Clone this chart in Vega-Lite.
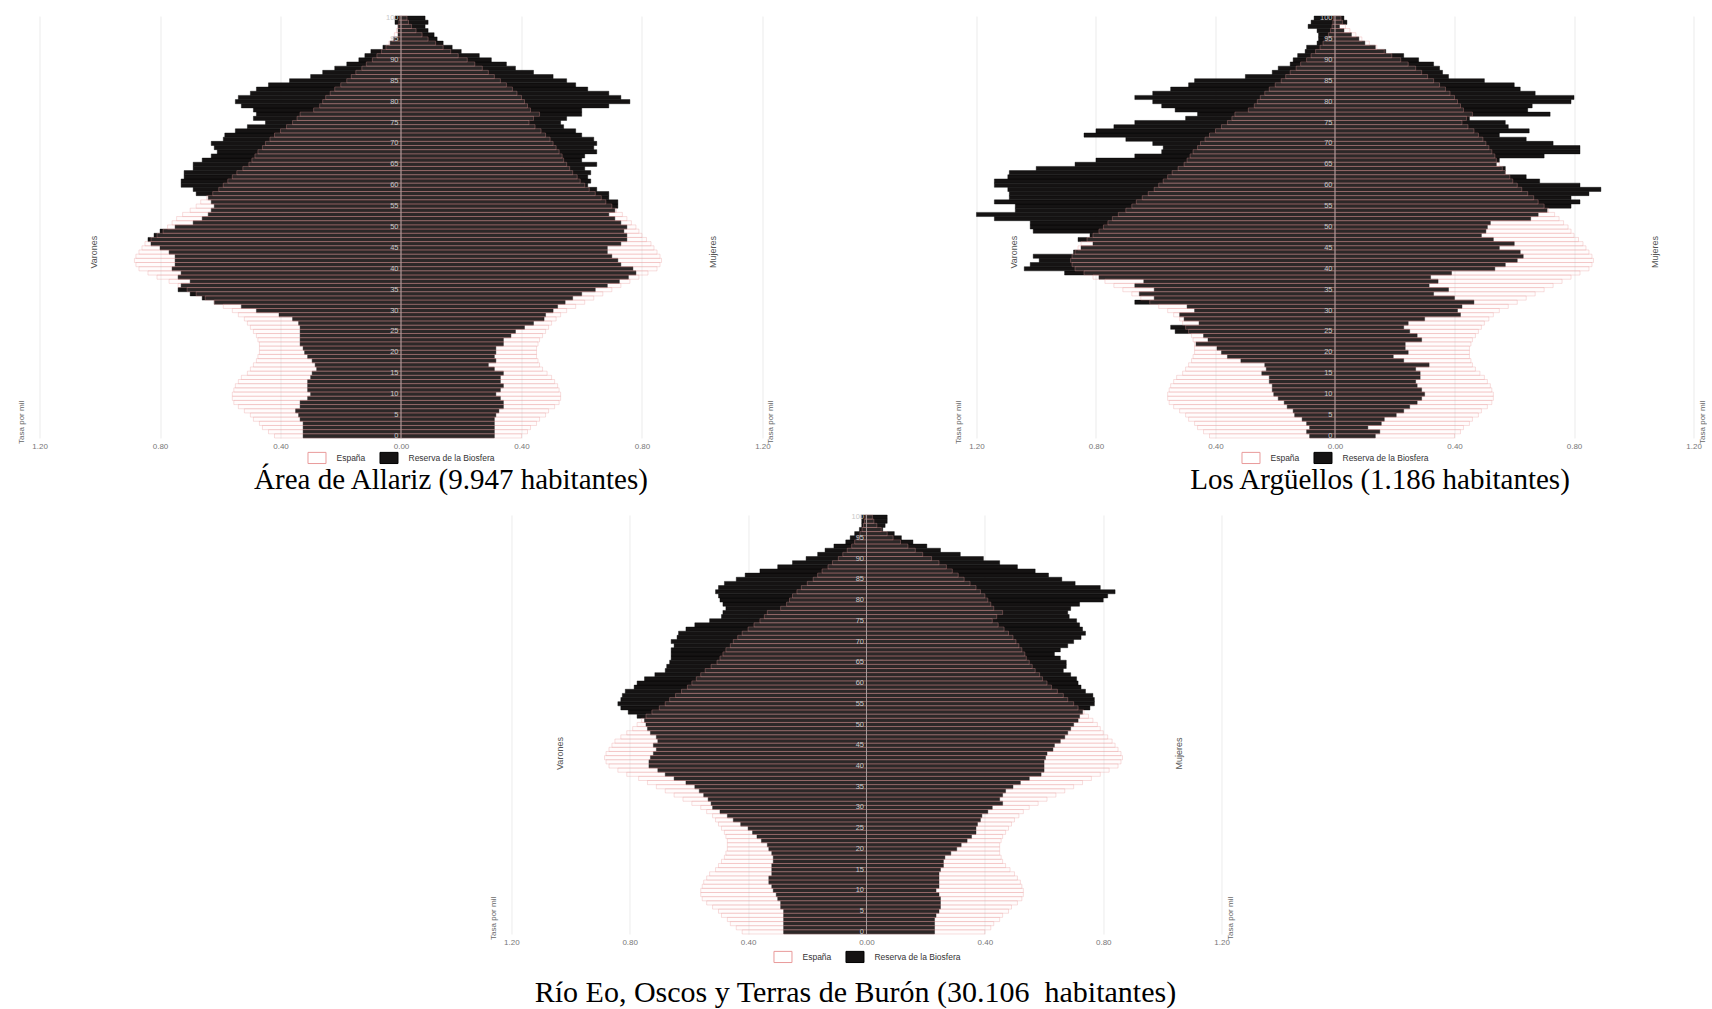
{
"$schema":"https://vega.github.io/schema/vega-lite/v6.json",
"background":"white",
"padding":{"left":18,"top":13,"right":0,"bottom":0},
"config":{"view":{"stroke":null},"axis":{"labelFont":"Liberation Sans"},"legend":{"labelFont":"Liberation Sans","layout":{"bottom":{"anchor":"middle"}}}},
"datasets":{
"es":[
{"e":0,"s":"V","v":-0.42},{"e":0,"s":"M","v":0.40},{"e":1,"s":"V","v":-0.44},{"e":1,"s":"M","v":0.42},{"e":2,"s":"V","v":-0.46},{"e":2,"s":"M","v":0.43},{"e":3,"s":"V","v":-0.47},{"e":3,"s":"M","v":0.45},{"e":4,"s":"V","v":-0.49},{"e":4,"s":"M","v":0.46},
{"e":5,"s":"V","v":-0.50},{"e":5,"s":"M","v":0.48},{"e":6,"s":"V","v":-0.52},{"e":6,"s":"M","v":0.49},{"e":7,"s":"V","v":-0.54},{"e":7,"s":"M","v":0.51},{"e":8,"s":"V","v":-0.555},{"e":8,"s":"M","v":0.525},{"e":9,"s":"V","v":-0.56},{"e":9,"s":"M","v":0.53},
{"e":10,"s":"V","v":-0.56},{"e":10,"s":"M","v":0.53},{"e":11,"s":"V","v":-0.555},{"e":11,"s":"M","v":0.525},{"e":12,"s":"V","v":-0.55},{"e":12,"s":"M","v":0.52},{"e":13,"s":"V","v":-0.54},{"e":13,"s":"M","v":0.51},{"e":14,"s":"V","v":-0.53},{"e":14,"s":"M","v":0.50},
{"e":15,"s":"V","v":-0.51},{"e":15,"s":"M","v":0.485},{"e":16,"s":"V","v":-0.50},{"e":16,"s":"M","v":0.47},{"e":17,"s":"V","v":-0.49},{"e":17,"s":"M","v":0.46},{"e":18,"s":"V","v":-0.48},{"e":18,"s":"M","v":0.455},{"e":19,"s":"V","v":-0.475},{"e":19,"s":"M","v":0.45},
{"e":20,"s":"V","v":-0.47},{"e":20,"s":"M","v":0.45},{"e":21,"s":"V","v":-0.47},{"e":21,"s":"M","v":0.45},{"e":22,"s":"V","v":-0.47},{"e":22,"s":"M","v":0.455},{"e":23,"s":"V","v":-0.475},{"e":23,"s":"M","v":0.46},{"e":24,"s":"V","v":-0.48},{"e":24,"s":"M","v":0.47},
{"e":25,"s":"V","v":-0.49},{"e":25,"s":"M","v":0.48},{"e":26,"s":"V","v":-0.50},{"e":26,"s":"M","v":0.49},{"e":27,"s":"V","v":-0.51},{"e":27,"s":"M","v":0.50},{"e":28,"s":"V","v":-0.52},{"e":28,"s":"M","v":0.515},{"e":29,"s":"V","v":-0.54},{"e":29,"s":"M","v":0.53},
{"e":30,"s":"V","v":-0.56},{"e":30,"s":"M","v":0.55},{"e":31,"s":"V","v":-0.59},{"e":31,"s":"M","v":0.58},{"e":32,"s":"V","v":-0.62},{"e":32,"s":"M","v":0.61},{"e":33,"s":"V","v":-0.65},{"e":33,"s":"M","v":0.64},{"e":34,"s":"V","v":-0.68},{"e":34,"s":"M","v":0.67},
{"e":35,"s":"V","v":-0.71},{"e":35,"s":"M","v":0.70},{"e":36,"s":"V","v":-0.74},{"e":36,"s":"M","v":0.73},{"e":37,"s":"V","v":-0.77},{"e":37,"s":"M","v":0.76},{"e":38,"s":"V","v":-0.81},{"e":38,"s":"M","v":0.79},{"e":39,"s":"V","v":-0.84},{"e":39,"s":"M","v":0.82},
{"e":40,"s":"V","v":-0.87},{"e":40,"s":"M","v":0.85},{"e":41,"s":"V","v":-0.88},{"e":41,"s":"M","v":0.86},{"e":42,"s":"V","v":-0.885},{"e":42,"s":"M","v":0.865},{"e":43,"s":"V","v":-0.88},{"e":43,"s":"M","v":0.86},{"e":44,"s":"V","v":-0.87},{"e":44,"s":"M","v":0.85},
{"e":45,"s":"V","v":-0.86},{"e":45,"s":"M","v":0.84},{"e":46,"s":"V","v":-0.85},{"e":46,"s":"M","v":0.83},{"e":47,"s":"V","v":-0.83},{"e":47,"s":"M","v":0.815},{"e":48,"s":"V","v":-0.81},{"e":48,"s":"M","v":0.80},{"e":49,"s":"V","v":-0.79},{"e":49,"s":"M","v":0.79},
{"e":50,"s":"V","v":-0.775},{"e":50,"s":"M","v":0.78},{"e":51,"s":"V","v":-0.76},{"e":51,"s":"M","v":0.765},{"e":52,"s":"V","v":-0.745},{"e":52,"s":"M","v":0.75},{"e":53,"s":"V","v":-0.725},{"e":53,"s":"M","v":0.735},{"e":54,"s":"V","v":-0.70},{"e":54,"s":"M","v":0.715},
{"e":55,"s":"V","v":-0.68},{"e":55,"s":"M","v":0.70},{"e":56,"s":"V","v":-0.665},{"e":56,"s":"M","v":0.68},{"e":57,"s":"V","v":-0.645},{"e":57,"s":"M","v":0.665},{"e":58,"s":"V","v":-0.625},{"e":58,"s":"M","v":0.645},{"e":59,"s":"V","v":-0.605},{"e":59,"s":"M","v":0.625},
{"e":60,"s":"V","v":-0.59},{"e":60,"s":"M","v":0.61},{"e":61,"s":"V","v":-0.575},{"e":61,"s":"M","v":0.595},{"e":62,"s":"V","v":-0.56},{"e":62,"s":"M","v":0.585},{"e":63,"s":"V","v":-0.545},{"e":63,"s":"M","v":0.57},{"e":64,"s":"V","v":-0.525},{"e":64,"s":"M","v":0.56},
{"e":65,"s":"V","v":-0.505},{"e":65,"s":"M","v":0.55},{"e":66,"s":"V","v":-0.495},{"e":66,"s":"M","v":0.54},{"e":67,"s":"V","v":-0.485},{"e":67,"s":"M","v":0.535},{"e":68,"s":"V","v":-0.475},{"e":68,"s":"M","v":0.525},{"e":69,"s":"V","v":-0.46},{"e":69,"s":"M","v":0.515},
{"e":70,"s":"V","v":-0.45},{"e":70,"s":"M","v":0.505},{"e":71,"s":"V","v":-0.435},{"e":71,"s":"M","v":0.495},{"e":72,"s":"V","v":-0.42},{"e":72,"s":"M","v":0.48},{"e":73,"s":"V","v":-0.40},{"e":73,"s":"M","v":0.465},{"e":74,"s":"V","v":-0.38},{"e":74,"s":"M","v":0.445},
{"e":75,"s":"V","v":-0.36},{"e":75,"s":"M","v":0.425},{"e":76,"s":"V","v":-0.345},{"e":76,"s":"M","v":0.44},{"e":77,"s":"V","v":-0.335},{"e":77,"s":"M","v":0.46},{"e":78,"s":"V","v":-0.29},{"e":78,"s":"M","v":0.43},{"e":79,"s":"V","v":-0.27},{"e":79,"s":"M","v":0.42},
{"e":80,"s":"V","v":-0.26},{"e":80,"s":"M","v":0.41},{"e":81,"s":"V","v":-0.25},{"e":81,"s":"M","v":0.40},{"e":82,"s":"V","v":-0.235},{"e":82,"s":"M","v":0.385},{"e":83,"s":"V","v":-0.22},{"e":83,"s":"M","v":0.37},{"e":84,"s":"V","v":-0.20},{"e":84,"s":"M","v":0.35},
{"e":85,"s":"V","v":-0.18},{"e":85,"s":"M","v":0.33},{"e":86,"s":"V","v":-0.165},{"e":86,"s":"M","v":0.31},{"e":87,"s":"V","v":-0.15},{"e":87,"s":"M","v":0.29},{"e":88,"s":"V","v":-0.13},{"e":88,"s":"M","v":0.27},{"e":89,"s":"V","v":-0.115},{"e":89,"s":"M","v":0.245},
{"e":90,"s":"V","v":-0.095},{"e":90,"s":"M","v":0.22},{"e":91,"s":"V","v":-0.08},{"e":91,"s":"M","v":0.19},{"e":92,"s":"V","v":-0.065},{"e":92,"s":"M","v":0.165},{"e":93,"s":"V","v":-0.05},{"e":93,"s":"M","v":0.14},{"e":94,"s":"V","v":-0.04},{"e":94,"s":"M","v":0.115},
{"e":95,"s":"V","v":-0.03},{"e":95,"s":"M","v":0.09},{"e":96,"s":"V","v":-0.022},{"e":96,"s":"M","v":0.07},{"e":97,"s":"V","v":-0.015},{"e":97,"s":"M","v":0.05},{"e":98,"s":"V","v":-0.01},{"e":98,"s":"M","v":0.035},{"e":99,"s":"V","v":-0.007},{"e":99,"s":"M","v":0.025},
{"e":100,"s":"V","v":-0.005},{"e":100,"s":"M","v":0.02}
],
"al":[
{"e":0,"s":"V","v":-0.325},{"e":0,"s":"M","v":0.31},{"e":1,"s":"V","v":-0.325},{"e":1,"s":"M","v":0.31},{"e":2,"s":"V","v":-0.325},{"e":2,"s":"M","v":0.31},{"e":3,"s":"V","v":-0.325},{"e":3,"s":"M","v":0.31},{"e":4,"s":"V","v":-0.335},{"e":4,"s":"M","v":0.31},
{"e":5,"s":"V","v":-0.34},{"e":5,"s":"M","v":0.315},{"e":6,"s":"V","v":-0.35},{"e":6,"s":"M","v":0.325},{"e":7,"s":"V","v":-0.335},{"e":7,"s":"M","v":0.34},{"e":8,"s":"V","v":-0.335},{"e":8,"s":"M","v":0.34},{"e":9,"s":"V","v":-0.31},{"e":9,"s":"M","v":0.33},
{"e":10,"s":"V","v":-0.30},{"e":10,"s":"M","v":0.315},{"e":11,"s":"V","v":-0.31},{"e":11,"s":"M","v":0.33},{"e":12,"s":"V","v":-0.31},{"e":12,"s":"M","v":0.34},{"e":13,"s":"V","v":-0.31},{"e":13,"s":"M","v":0.33},{"e":14,"s":"V","v":-0.30},{"e":14,"s":"M","v":0.33},
{"e":15,"s":"V","v":-0.295},{"e":15,"s":"M","v":0.34},{"e":16,"s":"V","v":-0.28},{"e":16,"s":"M","v":0.31},{"e":17,"s":"V","v":-0.285},{"e":17,"s":"M","v":0.29},{"e":18,"s":"V","v":-0.295},{"e":18,"s":"M","v":0.315},{"e":19,"s":"V","v":-0.31},{"e":19,"s":"M","v":0.31},
{"e":20,"s":"V","v":-0.32},{"e":20,"s":"M","v":0.315},{"e":21,"s":"V","v":-0.325},{"e":21,"s":"M","v":0.315},{"e":22,"s":"V","v":-0.335},{"e":22,"s":"M","v":0.34},{"e":23,"s":"V","v":-0.335},{"e":23,"s":"M","v":0.34},{"e":24,"s":"V","v":-0.335},{"e":24,"s":"M","v":0.365},
{"e":25,"s":"V","v":-0.335},{"e":25,"s":"M","v":0.38},{"e":26,"s":"V","v":-0.335},{"e":26,"s":"M","v":0.41},{"e":27,"s":"V","v":-0.34},{"e":27,"s":"M","v":0.44},{"e":28,"s":"V","v":-0.36},{"e":28,"s":"M","v":0.475},{"e":29,"s":"V","v":-0.405},{"e":29,"s":"M","v":0.48},
{"e":30,"s":"V","v":-0.48},{"e":30,"s":"M","v":0.505},{"e":31,"s":"V","v":-0.53},{"e":31,"s":"M","v":0.52},{"e":32,"s":"V","v":-0.62},{"e":32,"s":"M","v":0.545},{"e":33,"s":"V","v":-0.66},{"e":33,"s":"M","v":0.57},{"e":34,"s":"V","v":-0.70},{"e":34,"s":"M","v":0.60},
{"e":35,"s":"V","v":-0.74},{"e":35,"s":"M","v":0.645},{"e":36,"s":"V","v":-0.73},{"e":36,"s":"M","v":0.685},{"e":37,"s":"V","v":-0.70},{"e":37,"s":"M","v":0.725},{"e":38,"s":"V","v":-0.74},{"e":38,"s":"M","v":0.755},{"e":39,"s":"V","v":-0.73},{"e":39,"s":"M","v":0.78},
{"e":40,"s":"V","v":-0.76},{"e":40,"s":"M","v":0.77},{"e":41,"s":"V","v":-0.75},{"e":41,"s":"M","v":0.73},{"e":42,"s":"V","v":-0.75},{"e":42,"s":"M","v":0.72},{"e":43,"s":"V","v":-0.75},{"e":43,"s":"M","v":0.70},{"e":44,"s":"V","v":-0.77},{"e":44,"s":"M","v":0.685},
{"e":45,"s":"V","v":-0.80},{"e":45,"s":"M","v":0.685},{"e":46,"s":"V","v":-0.83},{"e":46,"s":"M","v":0.73},{"e":47,"s":"V","v":-0.84},{"e":47,"s":"M","v":0.75},{"e":48,"s":"V","v":-0.82},{"e":48,"s":"M","v":0.75},{"e":49,"s":"V","v":-0.80},{"e":49,"s":"M","v":0.74},
{"e":50,"s":"V","v":-0.75},{"e":50,"s":"M","v":0.75},{"e":51,"s":"V","v":-0.69},{"e":51,"s":"M","v":0.73},{"e":52,"s":"V","v":-0.66},{"e":52,"s":"M","v":0.71},{"e":53,"s":"V","v":-0.64},{"e":53,"s":"M","v":0.69},{"e":54,"s":"V","v":-0.63},{"e":54,"s":"M","v":0.71},
{"e":55,"s":"V","v":-0.62},{"e":55,"s":"M","v":0.72},{"e":56,"s":"V","v":-0.63},{"e":56,"s":"M","v":0.72},{"e":57,"s":"V","v":-0.64},{"e":57,"s":"M","v":0.69},{"e":58,"s":"V","v":-0.68},{"e":58,"s":"M","v":0.69},{"e":59,"s":"V","v":-0.69},{"e":59,"s":"M","v":0.65},
{"e":60,"s":"V","v":-0.73},{"e":60,"s":"M","v":0.62},{"e":61,"s":"V","v":-0.73},{"e":61,"s":"M","v":0.63},{"e":62,"s":"V","v":-0.72},{"e":62,"s":"M","v":0.62},{"e":63,"s":"V","v":-0.72},{"e":63,"s":"M","v":0.63},{"e":64,"s":"V","v":-0.69},{"e":64,"s":"M","v":0.61},
{"e":65,"s":"V","v":-0.69},{"e":65,"s":"M","v":0.65},{"e":66,"s":"V","v":-0.66},{"e":66,"s":"M","v":0.60},{"e":67,"s":"V","v":-0.63},{"e":67,"s":"M","v":0.61},{"e":68,"s":"V","v":-0.61},{"e":68,"s":"M","v":0.65},{"e":69,"s":"V","v":-0.62},{"e":69,"s":"M","v":0.64},
{"e":70,"s":"V","v":-0.63},{"e":70,"s":"M","v":0.65},{"e":71,"s":"V","v":-0.59},{"e":71,"s":"M","v":0.64},{"e":72,"s":"V","v":-0.585},{"e":72,"s":"M","v":0.60},{"e":73,"s":"V","v":-0.55},{"e":73,"s":"M","v":0.58},{"e":74,"s":"V","v":-0.51},{"e":74,"s":"M","v":0.54},
{"e":75,"s":"V","v":-0.45},{"e":75,"s":"M","v":0.53},{"e":76,"s":"V","v":-0.49},{"e":76,"s":"M","v":0.55},{"e":77,"s":"V","v":-0.48},{"e":77,"s":"M","v":0.60},{"e":78,"s":"V","v":-0.49},{"e":78,"s":"M","v":0.60},{"e":79,"s":"V","v":-0.53},{"e":79,"s":"M","v":0.69},
{"e":80,"s":"V","v":-0.55},{"e":80,"s":"M","v":0.76},{"e":81,"s":"V","v":-0.54},{"e":81,"s":"M","v":0.73},{"e":82,"s":"V","v":-0.50},{"e":82,"s":"M","v":0.69},{"e":83,"s":"V","v":-0.48},{"e":83,"s":"M","v":0.62},{"e":84,"s":"V","v":-0.44},{"e":84,"s":"M","v":0.58},
{"e":85,"s":"V","v":-0.37},{"e":85,"s":"M","v":0.55},{"e":86,"s":"V","v":-0.30},{"e":86,"s":"M","v":0.505},{"e":87,"s":"V","v":-0.26},{"e":87,"s":"M","v":0.44},{"e":88,"s":"V","v":-0.22},{"e":88,"s":"M","v":0.38},{"e":89,"s":"V","v":-0.18},{"e":89,"s":"M","v":0.35},
{"e":90,"s":"V","v":-0.14},{"e":90,"s":"M","v":0.30},{"e":91,"s":"V","v":-0.12},{"e":91,"s":"M","v":0.26},{"e":92,"s":"V","v":-0.10},{"e":92,"s":"M","v":0.20},{"e":93,"s":"V","v":-0.06},{"e":93,"s":"M","v":0.17},{"e":94,"s":"V","v":-0.036},{"e":94,"s":"M","v":0.14},
{"e":95,"s":"V","v":-0.025},{"e":95,"s":"M","v":0.12},{"e":96,"s":"V","v":-0.01},{"e":96,"s":"M","v":0.11},{"e":97,"s":"V","v":-0.01},{"e":97,"s":"M","v":0.09},{"e":98,"s":"V","v":-0.01},{"e":98,"s":"M","v":0.08},{"e":99,"s":"V","v":-0.02},{"e":99,"s":"M","v":0.09},
{"e":100,"s":"V","v":-0.02},{"e":100,"s":"M","v":0.08}
],
"ar":[
{"e":0,"s":"V","v":-0.085},{"e":0,"s":"M","v":0.135},{"e":1,"s":"V","v":-0.095},{"e":1,"s":"M","v":0.15},{"e":2,"s":"V","v":-0.085},{"e":2,"s":"M","v":0.11},{"e":3,"s":"V","v":-0.095},{"e":3,"s":"M","v":0.155},{"e":4,"s":"V","v":-0.11},{"e":4,"s":"M","v":0.165},
{"e":5,"s":"V","v":-0.135},{"e":5,"s":"M","v":0.205},{"e":6,"s":"V","v":-0.14},{"e":6,"s":"M","v":0.23},{"e":7,"s":"V","v":-0.16},{"e":7,"s":"M","v":0.25},{"e":8,"s":"V","v":-0.17},{"e":8,"s":"M","v":0.275},{"e":9,"s":"V","v":-0.19},{"e":9,"s":"M","v":0.29},
{"e":10,"s":"V","v":-0.205},{"e":10,"s":"M","v":0.30},{"e":11,"s":"V","v":-0.21},{"e":11,"s":"M","v":0.29},{"e":12,"s":"V","v":-0.21},{"e":12,"s":"M","v":0.275},{"e":13,"s":"V","v":-0.22},{"e":13,"s":"M","v":0.27},{"e":14,"s":"V","v":-0.22},{"e":14,"s":"M","v":0.285},
{"e":15,"s":"V","v":-0.245},{"e":15,"s":"M","v":0.285},{"e":16,"s":"V","v":-0.23},{"e":16,"s":"M","v":0.27},{"e":17,"s":"V","v":-0.235},{"e":17,"s":"M","v":0.315},{"e":18,"s":"V","v":-0.315},{"e":18,"s":"M","v":0.23},{"e":19,"s":"V","v":-0.36},{"e":19,"s":"M","v":0.195},
{"e":20,"s":"V","v":-0.38},{"e":20,"s":"M","v":0.245},{"e":21,"s":"V","v":-0.395},{"e":21,"s":"M","v":0.235},{"e":22,"s":"V","v":-0.465},{"e":22,"s":"M","v":0.235},{"e":23,"s":"V","v":-0.425},{"e":23,"s":"M","v":0.29},{"e":24,"s":"V","v":-0.44},{"e":24,"s":"M","v":0.275},
{"e":25,"s":"V","v":-0.535},{"e":25,"s":"M","v":0.25},{"e":26,"s":"V","v":-0.55},{"e":26,"s":"M","v":0.23},{"e":27,"s":"V","v":-0.455},{"e":27,"s":"M","v":0.245},{"e":28,"s":"V","v":-0.505},{"e":28,"s":"M","v":0.30},{"e":29,"s":"V","v":-0.52},{"e":29,"s":"M","v":0.42},
{"e":30,"s":"V","v":-0.47},{"e":30,"s":"M","v":0.41},{"e":31,"s":"V","v":-0.495},{"e":31,"s":"M","v":0.425},{"e":32,"s":"V","v":-0.67},{"e":32,"s":"M","v":0.465},{"e":33,"s":"V","v":-0.605},{"e":33,"s":"M","v":0.40},{"e":34,"s":"V","v":-0.655},{"e":34,"s":"M","v":0.33},
{"e":35,"s":"V","v":-0.605},{"e":35,"s":"M","v":0.38},{"e":36,"s":"V","v":-0.67},{"e":36,"s":"M","v":0.315},{"e":37,"s":"V","v":-0.64},{"e":37,"s":"M","v":0.345},{"e":38,"s":"V","v":-0.79},{"e":38,"s":"M","v":0.32},{"e":39,"s":"V","v":-0.905},{"e":39,"s":"M","v":0.39},
{"e":40,"s":"V","v":-1.04},{"e":40,"s":"M","v":0.535},{"e":41,"s":"V","v":-1.02},{"e":41,"s":"M","v":0.57},{"e":42,"s":"V","v":-0.99},{"e":42,"s":"M","v":0.61},{"e":43,"s":"V","v":-1.01},{"e":43,"s":"M","v":0.63},{"e":44,"s":"V","v":-0.875},{"e":44,"s":"M","v":0.62},
{"e":45,"s":"V","v":-0.85},{"e":45,"s":"M","v":0.55},{"e":46,"s":"V","v":-0.81},{"e":46,"s":"M","v":0.60},{"e":47,"s":"V","v":-0.86},{"e":47,"s":"M","v":0.53},{"e":48,"s":"V","v":-0.82},{"e":48,"s":"M","v":0.49},{"e":49,"s":"V","v":-1.01},{"e":49,"s":"M","v":0.505},
{"e":50,"s":"V","v":-1.02},{"e":50,"s":"M","v":0.51},{"e":51,"s":"V","v":-1.02},{"e":51,"s":"M","v":0.52},{"e":52,"s":"V","v":-1.14},{"e":52,"s":"M","v":0.655},{"e":53,"s":"V","v":-1.20},{"e":53,"s":"M","v":0.68},{"e":54,"s":"V","v":-1.07},{"e":54,"s":"M","v":0.71},
{"e":55,"s":"V","v":-1.07},{"e":55,"s":"M","v":0.79},{"e":56,"s":"V","v":-1.14},{"e":56,"s":"M","v":0.82},{"e":57,"s":"V","v":-1.09},{"e":57,"s":"M","v":0.79},{"e":58,"s":"V","v":-1.09},{"e":58,"s":"M","v":0.85},{"e":59,"s":"V","v":-1.095},{"e":59,"s":"M","v":0.89},
{"e":60,"s":"V","v":-1.14},{"e":60,"s":"M","v":0.82},{"e":61,"s":"V","v":-1.14},{"e":61,"s":"M","v":0.685},{"e":62,"s":"V","v":-1.095},{"e":62,"s":"M","v":0.64},{"e":63,"s":"V","v":-1.09},{"e":63,"s":"M","v":0.57},{"e":64,"s":"V","v":-1.00},{"e":64,"s":"M","v":0.57},
{"e":65,"s":"V","v":-0.87},{"e":65,"s":"M","v":0.54},{"e":66,"s":"V","v":-0.80},{"e":66,"s":"M","v":0.55},{"e":67,"s":"V","v":-0.67},{"e":67,"s":"M","v":0.70},{"e":68,"s":"V","v":-0.58},{"e":68,"s":"M","v":0.82},{"e":69,"s":"V","v":-0.575},{"e":69,"s":"M","v":0.82},
{"e":70,"s":"V","v":-0.61},{"e":70,"s":"M","v":0.73},{"e":71,"s":"V","v":-0.70},{"e":71,"s":"M","v":0.64},{"e":72,"s":"V","v":-0.84},{"e":72,"s":"M","v":0.55},{"e":73,"s":"V","v":-0.80},{"e":73,"s":"M","v":0.65},{"e":74,"s":"V","v":-0.74},{"e":74,"s":"M","v":0.58},
{"e":75,"s":"V","v":-0.67},{"e":75,"s":"M","v":0.57},{"e":76,"s":"V","v":-0.50},{"e":76,"s":"M","v":0.45},{"e":77,"s":"V","v":-0.46},{"e":77,"s":"M","v":0.72},{"e":78,"s":"V","v":-0.535},{"e":78,"s":"M","v":0.645},{"e":79,"s":"V","v":-0.58},{"e":79,"s":"M","v":0.66},
{"e":80,"s":"V","v":-0.61},{"e":80,"s":"M","v":0.79},{"e":81,"s":"V","v":-0.67},{"e":81,"s":"M","v":0.80},{"e":82,"s":"V","v":-0.61},{"e":82,"s":"M","v":0.67},{"e":83,"s":"V","v":-0.55},{"e":83,"s":"M","v":0.62},{"e":84,"s":"V","v":-0.49},{"e":84,"s":"M","v":0.60},
{"e":85,"s":"V","v":-0.47},{"e":85,"s":"M","v":0.50},{"e":86,"s":"V","v":-0.30},{"e":86,"s":"M","v":0.38},{"e":87,"s":"V","v":-0.21},{"e":87,"s":"M","v":0.36},{"e":88,"s":"V","v":-0.19},{"e":88,"s":"M","v":0.35},{"e":89,"s":"V","v":-0.15},{"e":89,"s":"M","v":0.33},
{"e":90,"s":"V","v":-0.14},{"e":90,"s":"M","v":0.28},{"e":91,"s":"V","v":-0.125},{"e":91,"s":"M","v":0.23},{"e":92,"s":"V","v":-0.10},{"e":92,"s":"M","v":0.17},{"e":93,"s":"V","v":-0.095},{"e":93,"s":"M","v":0.135},{"e":94,"s":"V","v":-0.06},{"e":94,"s":"M","v":0.10},
{"e":95,"s":"V","v":-0.055},{"e":95,"s":"M","v":0.08},{"e":96,"s":"V","v":-0.055},{"e":96,"s":"M","v":0.055},{"e":97,"s":"V","v":-0.06},{"e":97,"s":"M","v":0.03},{"e":98,"s":"V","v":-0.09},{"e":98,"s":"M","v":0.015},{"e":99,"s":"V","v":-0.08},{"e":99,"s":"M","v":0.04},
{"e":100,"s":"V","v":-0.07},{"e":100,"s":"M","v":0.03}
],
"eo":[
{"e":0,"s":"V","v":-0.28},{"e":0,"s":"M","v":0.23},{"e":1,"s":"V","v":-0.28},{"e":1,"s":"M","v":0.23},{"e":2,"s":"V","v":-0.28},{"e":2,"s":"M","v":0.23},{"e":3,"s":"V","v":-0.28},{"e":3,"s":"M","v":0.23},{"e":4,"s":"V","v":-0.28},{"e":4,"s":"M","v":0.235},
{"e":5,"s":"V","v":-0.28},{"e":5,"s":"M","v":0.245},{"e":6,"s":"V","v":-0.29},{"e":6,"s":"M","v":0.25},{"e":7,"s":"V","v":-0.29},{"e":7,"s":"M","v":0.25},{"e":8,"s":"V","v":-0.30},{"e":8,"s":"M","v":0.25},{"e":9,"s":"V","v":-0.305},{"e":9,"s":"M","v":0.245},
{"e":10,"s":"V","v":-0.315},{"e":10,"s":"M","v":0.235},{"e":11,"s":"V","v":-0.32},{"e":11,"s":"M","v":0.245},{"e":12,"s":"V","v":-0.33},{"e":12,"s":"M","v":0.245},{"e":13,"s":"V","v":-0.33},{"e":13,"s":"M","v":0.245},{"e":14,"s":"V","v":-0.32},{"e":14,"s":"M","v":0.245},
{"e":15,"s":"V","v":-0.32},{"e":15,"s":"M","v":0.25},{"e":16,"s":"V","v":-0.32},{"e":16,"s":"M","v":0.26},{"e":17,"s":"V","v":-0.315},{"e":17,"s":"M","v":0.26},{"e":18,"s":"V","v":-0.315},{"e":18,"s":"M","v":0.265},{"e":19,"s":"V","v":-0.32},{"e":19,"s":"M","v":0.285},
{"e":20,"s":"V","v":-0.33},{"e":20,"s":"M","v":0.305},{"e":21,"s":"V","v":-0.335},{"e":21,"s":"M","v":0.32},{"e":22,"s":"V","v":-0.355},{"e":22,"s":"M","v":0.34},{"e":23,"s":"V","v":-0.37},{"e":23,"s":"M","v":0.355},{"e":24,"s":"V","v":-0.385},{"e":24,"s":"M","v":0.37},
{"e":25,"s":"V","v":-0.40},{"e":25,"s":"M","v":0.37},{"e":26,"s":"V","v":-0.425},{"e":26,"s":"M","v":0.375},{"e":27,"s":"V","v":-0.45},{"e":27,"s":"M","v":0.385},{"e":28,"s":"V","v":-0.47},{"e":28,"s":"M","v":0.39},{"e":29,"s":"V","v":-0.495},{"e":29,"s":"M","v":0.41},
{"e":30,"s":"V","v":-0.52},{"e":30,"s":"M","v":0.425},{"e":31,"s":"V","v":-0.525},{"e":31,"s":"M","v":0.46},{"e":32,"s":"V","v":-0.535},{"e":32,"s":"M","v":0.45},{"e":33,"s":"V","v":-0.55},{"e":33,"s":"M","v":0.46},{"e":34,"s":"V","v":-0.565},{"e":34,"s":"M","v":0.47},
{"e":35,"s":"V","v":-0.58},{"e":35,"s":"M","v":0.495},{"e":36,"s":"V","v":-0.61},{"e":36,"s":"M","v":0.52},{"e":37,"s":"V","v":-0.65},{"e":37,"s":"M","v":0.55},{"e":38,"s":"V","v":-0.68},{"e":38,"s":"M","v":0.59},{"e":39,"s":"V","v":-0.705},{"e":39,"s":"M","v":0.60},
{"e":40,"s":"V","v":-0.735},{"e":40,"s":"M","v":0.60},{"e":41,"s":"V","v":-0.735},{"e":41,"s":"M","v":0.60},{"e":42,"s":"V","v":-0.73},{"e":42,"s":"M","v":0.605},{"e":43,"s":"V","v":-0.72},{"e":43,"s":"M","v":0.61},{"e":44,"s":"V","v":-0.71},{"e":44,"s":"M","v":0.63},
{"e":45,"s":"V","v":-0.72},{"e":45,"s":"M","v":0.635},{"e":46,"s":"V","v":-0.705},{"e":46,"s":"M","v":0.655},{"e":47,"s":"V","v":-0.71},{"e":47,"s":"M","v":0.67},{"e":48,"s":"V","v":-0.73},{"e":48,"s":"M","v":0.68},{"e":49,"s":"V","v":-0.74},{"e":49,"s":"M","v":0.69},
{"e":50,"s":"V","v":-0.745},{"e":50,"s":"M","v":0.70},{"e":51,"s":"V","v":-0.75},{"e":51,"s":"M","v":0.715},{"e":52,"s":"V","v":-0.775},{"e":52,"s":"M","v":0.72},{"e":53,"s":"V","v":-0.805},{"e":53,"s":"M","v":0.73},{"e":54,"s":"V","v":-0.83},{"e":54,"s":"M","v":0.755},
{"e":55,"s":"V","v":-0.84},{"e":55,"s":"M","v":0.77},{"e":56,"s":"V","v":-0.83},{"e":56,"s":"M","v":0.77},{"e":57,"s":"V","v":-0.825},{"e":57,"s":"M","v":0.765},{"e":58,"s":"V","v":-0.815},{"e":58,"s":"M","v":0.74},{"e":59,"s":"V","v":-0.785},{"e":59,"s":"M","v":0.725},
{"e":60,"s":"V","v":-0.775},{"e":60,"s":"M","v":0.715},{"e":61,"s":"V","v":-0.75},{"e":61,"s":"M","v":0.71},{"e":62,"s":"V","v":-0.715},{"e":62,"s":"M","v":0.69},{"e":63,"s":"V","v":-0.68},{"e":63,"s":"M","v":0.665},{"e":64,"s":"V","v":-0.675},{"e":64,"s":"M","v":0.675},
{"e":65,"s":"V","v":-0.665},{"e":65,"s":"M","v":0.675},{"e":66,"s":"V","v":-0.66},{"e":66,"s":"M","v":0.655},{"e":67,"s":"V","v":-0.66},{"e":67,"s":"M","v":0.635},{"e":68,"s":"V","v":-0.66},{"e":68,"s":"M","v":0.655},{"e":69,"s":"V","v":-0.65},{"e":69,"s":"M","v":0.68},
{"e":70,"s":"V","v":-0.66},{"e":70,"s":"M","v":0.70},{"e":71,"s":"V","v":-0.64},{"e":71,"s":"M","v":0.725},{"e":72,"s":"V","v":-0.635},{"e":72,"s":"M","v":0.74},{"e":73,"s":"V","v":-0.61},{"e":73,"s":"M","v":0.73},{"e":74,"s":"V","v":-0.58},{"e":74,"s":"M","v":0.72},
{"e":75,"s":"V","v":-0.53},{"e":75,"s":"M","v":0.71},{"e":76,"s":"V","v":-0.49},{"e":76,"s":"M","v":0.685},{"e":77,"s":"V","v":-0.485},{"e":77,"s":"M","v":0.68},{"e":78,"s":"V","v":-0.475},{"e":78,"s":"M","v":0.69},{"e":79,"s":"V","v":-0.485},{"e":79,"s":"M","v":0.72},
{"e":80,"s":"V","v":-0.495},{"e":80,"s":"M","v":0.80},{"e":81,"s":"V","v":-0.50},{"e":81,"s":"M","v":0.815},{"e":82,"s":"V","v":-0.51},{"e":82,"s":"M","v":0.84},{"e":83,"s":"V","v":-0.50},{"e":83,"s":"M","v":0.79},{"e":84,"s":"V","v":-0.48},{"e":84,"s":"M","v":0.705},
{"e":85,"s":"V","v":-0.44},{"e":85,"s":"M","v":0.66},{"e":86,"s":"V","v":-0.41},{"e":86,"s":"M","v":0.615},{"e":87,"s":"V","v":-0.36},{"e":87,"s":"M","v":0.57},{"e":88,"s":"V","v":-0.30},{"e":88,"s":"M","v":0.51},{"e":89,"s":"V","v":-0.25},{"e":89,"s":"M","v":0.45},
{"e":90,"s":"V","v":-0.204},{"e":90,"s":"M","v":0.395},{"e":91,"s":"V","v":-0.165},{"e":91,"s":"M","v":0.317},{"e":92,"s":"V","v":-0.14},{"e":92,"s":"M","v":0.25},{"e":93,"s":"V","v":-0.11},{"e":93,"s":"M","v":0.204},{"e":94,"s":"V","v":-0.07},{"e":94,"s":"M","v":0.157},
{"e":95,"s":"V","v":-0.055},{"e":95,"s":"M","v":0.118},{"e":96,"s":"V","v":-0.04},{"e":96,"s":"M","v":0.094},{"e":97,"s":"V","v":-0.024},{"e":97,"s":"M","v":0.055},{"e":98,"s":"V","v":-0.016},{"e":98,"s":"M","v":0.063},{"e":99,"s":"V","v":-0.016},{"e":99,"s":"M","v":0.07},
{"e":100,"s":"V","v":-0.016},{"e":100,"s":"M","v":0.07}
]
},
"vconcat":[
{"hconcat":[
{"width":747,"height":422,
"title":{"text":"Área de Allariz (9.947 habitantes)","orient":"bottom","anchor":"middle","frame":"group","font":"Liberation Serif","fontSize":29,"fontWeight":"normal","color":"#000000","offset":0,"dx":50},
"layer":[
{"data":{"name":"al"},"mark":{"type":"bar","strokeWidth":0.4},
"encoding":{
"y":{"field":"e","type":"ordinal","sort":"descending","scale":{"paddingInner":0,"paddingOuter":0},"axis":{"orient":"left","offset":-373.5,"values":[0,5,10,15,20,25,30,35,40,45,50,55,60,65,70,75,80,85,90,95,100],"domain":false,"ticks":false,"grid":false,"labelFontSize":7.5,"labelColor":"#c8c8c8","labelPadding":3,"title":null,"zindex":2}},
"x":{"field":"v","type":"quantitative","scale":{"domain":[-1.24,1.24],"nice":false},"axis":{"values":[-1.2,-0.8,-0.4,0,0.4,0.8,1.2],"labelExpr":"format(abs(datum.value),'.2f')","domain":false,"ticks":false,"grid":true,"gridColor":"#e6e6e6","gridWidth":0.8,"labelFontSize":8,"labelColor":"#777777","labelPadding":4,"title":null}},
"fill":{"datum":"Reserva de la Biosfera","type":"nominal","scale":{"domain":["España","Reserva de la Biosfera"],"range":["#ffffff","#151313"]},"legend":{"title":null,"orient":"bottom","direction":"horizontal","labelFontSize":8.5,"labelColor":"#333333","symbolType":"M-1,-0.62H1V0.62H-1Z","symbolSize":324,"symbolStrokeWidth":1,"columnPadding":12,"labelOffset":10,"offset":-2,"padding":0}},
"stroke":{"datum":"Reserva de la Biosfera","type":"nominal","scale":{"domain":["España","Reserva de la Biosfera"],"range":["#e99a9a","#000000"]},"legend":{"title":null,"orient":"bottom","direction":"horizontal","labelFontSize":8.5,"labelColor":"#333333","symbolType":"M-1,-0.62H1V0.62H-1Z","symbolSize":324,"symbolStrokeWidth":1,"columnPadding":12,"labelOffset":10,"offset":-2,"padding":0}}
}},
{"data":{"name":"es"},"mark":{"type":"bar","fill":"#ffe0e0","fillOpacity":0.1,"strokeWidth":0.32},
"encoding":{"y":{"field":"e","type":"ordinal","sort":"descending"},"x":{"field":"v","type":"quantitative"},"stroke":{"datum":"España","type":"nominal"}}},
{"data":{"values":[{}]},"mark":{"type":"rule","color":"#a8a8a8","strokeWidth":0.8},"encoding":{"x":{"datum":0}}},
{"data":{"values":[{}]},"mark":{"type":"text","text":"Varones","angle":270,"fontSize":9,"color":"#555555","font":"Liberation Sans"},"encoding":{"x":{"datum":-1.02},"y":{"datum":44,"type":"ordinal"}}},
{"data":{"values":[{}]},"mark":{"type":"text","text":"Mujeres","angle":270,"fontSize":9,"color":"#555555","font":"Liberation Sans"},"encoding":{"x":{"datum":1.036},"y":{"datum":44,"type":"ordinal"}}},
{"data":{"values":[{}]},"mark":{"type":"text","text":"Tasa por mil","angle":270,"align":"left","fontSize":8,"color":"#666666","font":"Liberation Sans","dx":-8,"dy":-5},"encoding":{"x":{"datum":-1.24},"y":{"datum":0,"type":"ordinal"}}},
{"data":{"values":[{}]},"mark":{"type":"text","text":"Tasa por mil","angle":270,"align":"left","fontSize":8,"color":"#666666","font":"Liberation Sans","dx":-8},"encoding":{"x":{"datum":1.23},"y":{"datum":0,"type":"ordinal"}}}
]},
{"width":741,"height":422,
"title":{"text":"Los Argüellos (1.186 habitantes)","orient":"bottom","anchor":"middle","frame":"group","font":"Liberation Serif","fontSize":29,"fontWeight":"normal","color":"#000000","offset":0,"dx":45},
"layer":[
{"data":{"name":"ar"},"mark":{"type":"bar","strokeWidth":0.4},
"encoding":{
"y":{"field":"e","type":"ordinal","sort":"descending","scale":{"paddingInner":0,"paddingOuter":0},"axis":{"orient":"left","offset":-370.5,"values":[0,5,10,15,20,25,30,35,40,45,50,55,60,65,70,75,80,85,90,95,100],"domain":false,"ticks":false,"grid":false,"labelFontSize":7.5,"labelColor":"#c8c8c8","labelPadding":3,"title":null,"zindex":2}},
"x":{"field":"v","type":"quantitative","scale":{"domain":[-1.24,1.24],"nice":false},"axis":{"values":[-1.2,-0.8,-0.4,0,0.4,0.8,1.2],"labelExpr":"format(abs(datum.value),'.2f')","domain":false,"ticks":false,"grid":true,"gridColor":"#e6e6e6","gridWidth":0.8,"labelFontSize":8,"labelColor":"#777777","labelPadding":4,"title":null}},
"fill":{"datum":"Reserva de la Biosfera","type":"nominal","scale":{"domain":["España","Reserva de la Biosfera"],"range":["#ffffff","#151313"]},"legend":{"title":null,"orient":"bottom","direction":"horizontal","labelFontSize":8.5,"labelColor":"#333333","symbolType":"M-1,-0.62H1V0.62H-1Z","symbolSize":324,"symbolStrokeWidth":1,"columnPadding":12,"labelOffset":10,"offset":-2,"padding":0}},
"stroke":{"datum":"Reserva de la Biosfera","type":"nominal","scale":{"domain":["España","Reserva de la Biosfera"],"range":["#e99a9a","#000000"]},"legend":{"title":null,"orient":"bottom","direction":"horizontal","labelFontSize":8.5,"labelColor":"#333333","symbolType":"M-1,-0.62H1V0.62H-1Z","symbolSize":324,"symbolStrokeWidth":1,"columnPadding":12,"labelOffset":10,"offset":-2,"padding":0}}
}},
{"data":{"name":"es"},"mark":{"type":"bar","fill":"#ffe0e0","fillOpacity":0.1,"strokeWidth":0.32},
"encoding":{"y":{"field":"e","type":"ordinal","sort":"descending"},"x":{"field":"v","type":"quantitative"},"stroke":{"datum":"España","type":"nominal"}}},
{"data":{"values":[{}]},"mark":{"type":"rule","color":"#a8a8a8","strokeWidth":0.8},"encoding":{"x":{"datum":0}}},
{"data":{"values":[{}]},"mark":{"type":"text","text":"Varones","angle":270,"fontSize":9,"color":"#555555","font":"Liberation Sans"},"encoding":{"x":{"datum":-1.074},"y":{"datum":44,"type":"ordinal"}}},
{"data":{"values":[{}]},"mark":{"type":"text","text":"Mujeres","angle":270,"fontSize":9,"color":"#555555","font":"Liberation Sans"},"encoding":{"x":{"datum":1.07},"y":{"datum":44,"type":"ordinal"}}},
{"data":{"values":[{}]},"mark":{"type":"text","text":"Tasa por mil","angle":270,"align":"left","fontSize":8,"color":"#666666","font":"Liberation Sans","dx":-8,"dy":-5},"encoding":{"x":{"datum":-1.24},"y":{"datum":0,"type":"ordinal"}}},
{"data":{"values":[{}]},"mark":{"type":"text","text":"Tasa por mil","angle":270,"align":"left","fontSize":8,"color":"#666666","font":"Liberation Sans","dx":-8},"encoding":{"x":{"datum":1.23},"y":{"datum":0,"type":"ordinal"}}}
]}
],"spacing":180,
"resolve":{"scale":{"x":"independent","y":"independent","fill":"independent","stroke":"independent"}}},
{"width":734,"height":419,
"title":{"text":"Río Eo, Oscos y Terras de Burón (30.106\u00a0 habitantes)","orient":"bottom","anchor":"middle","frame":"group","font":"Liberation Serif","fontSize":30,"fontWeight":"normal","color":"#000000","offset":13,"dx":-11},
"layer":[
{"data":{"name":"eo"},"mark":{"type":"bar","strokeWidth":0.4},
"encoding":{
"y":{"field":"e","type":"ordinal","sort":"descending","scale":{"paddingInner":0,"paddingOuter":0},"axis":{"orient":"left","offset":-367,"values":[0,5,10,15,20,25,30,35,40,45,50,55,60,65,70,75,80,85,90,95,100],"domain":false,"ticks":false,"grid":false,"labelFontSize":7.5,"labelColor":"#c8c8c8","labelPadding":3,"title":null,"zindex":2}},
"x":{"field":"v","type":"quantitative","scale":{"domain":[-1.24,1.24],"nice":false},"axis":{"values":[-1.2,-0.8,-0.4,0,0.4,0.8,1.2],"labelExpr":"format(abs(datum.value),'.2f')","domain":false,"ticks":false,"grid":true,"gridColor":"#e6e6e6","gridWidth":0.8,"labelFontSize":8,"labelColor":"#777777","labelPadding":4,"title":null}},
"fill":{"datum":"Reserva de la Biosfera","type":"nominal","scale":{"domain":["España","Reserva de la Biosfera"],"range":["#ffffff","#151313"]},"legend":{"title":null,"orient":"bottom","direction":"horizontal","labelFontSize":8.5,"labelColor":"#333333","symbolType":"M-1,-0.62H1V0.62H-1Z","symbolSize":324,"symbolStrokeWidth":1,"columnPadding":12,"labelOffset":10,"offset":1,"padding":0}},
"stroke":{"datum":"Reserva de la Biosfera","type":"nominal","scale":{"domain":["España","Reserva de la Biosfera"],"range":["#e99a9a","#000000"]},"legend":{"title":null,"orient":"bottom","direction":"horizontal","labelFontSize":8.5,"labelColor":"#333333","symbolType":"M-1,-0.62H1V0.62H-1Z","symbolSize":324,"symbolStrokeWidth":1,"columnPadding":12,"labelOffset":10,"offset":1,"padding":0}}
}},
{"data":{"name":"es"},"mark":{"type":"bar","fill":"#ffe0e0","fillOpacity":0.1,"strokeWidth":0.32},
"encoding":{"y":{"field":"e","type":"ordinal","sort":"descending"},"x":{"field":"v","type":"quantitative"},"stroke":{"datum":"España","type":"nominal"}}},
{"data":{"values":[{}]},"mark":{"type":"rule","color":"#a8a8a8","strokeWidth":0.8},"encoding":{"x":{"datum":0}}},
{"data":{"values":[{}]},"mark":{"type":"text","text":"Varones","angle":270,"fontSize":9,"color":"#555555","font":"Liberation Sans"},"encoding":{"x":{"datum":-1.034},"y":{"datum":43,"type":"ordinal"}}},
{"data":{"values":[{}]},"mark":{"type":"text","text":"Mujeres","angle":270,"fontSize":9,"color":"#555555","font":"Liberation Sans"},"encoding":{"x":{"datum":1.057},"y":{"datum":43,"type":"ordinal"}}},
{"data":{"values":[{}]},"mark":{"type":"text","text":"Tasa por mil","angle":270,"align":"left","fontSize":8,"color":"#666666","font":"Liberation Sans","dx":-8,"dy":-5},"encoding":{"x":{"datum":-1.24},"y":{"datum":0,"type":"ordinal"}}},
{"data":{"values":[{}]},"mark":{"type":"text","text":"Tasa por mil","angle":270,"align":"left","fontSize":8,"color":"#666666","font":"Liberation Sans","dx":-8},"encoding":{"x":{"datum":1.23},"y":{"datum":0,"type":"ordinal"}}}
]}
],
"spacing":17,"center":true,
"resolve":{"scale":{"x":"independent","y":"independent","fill":"independent","stroke":"independent"}}
}
